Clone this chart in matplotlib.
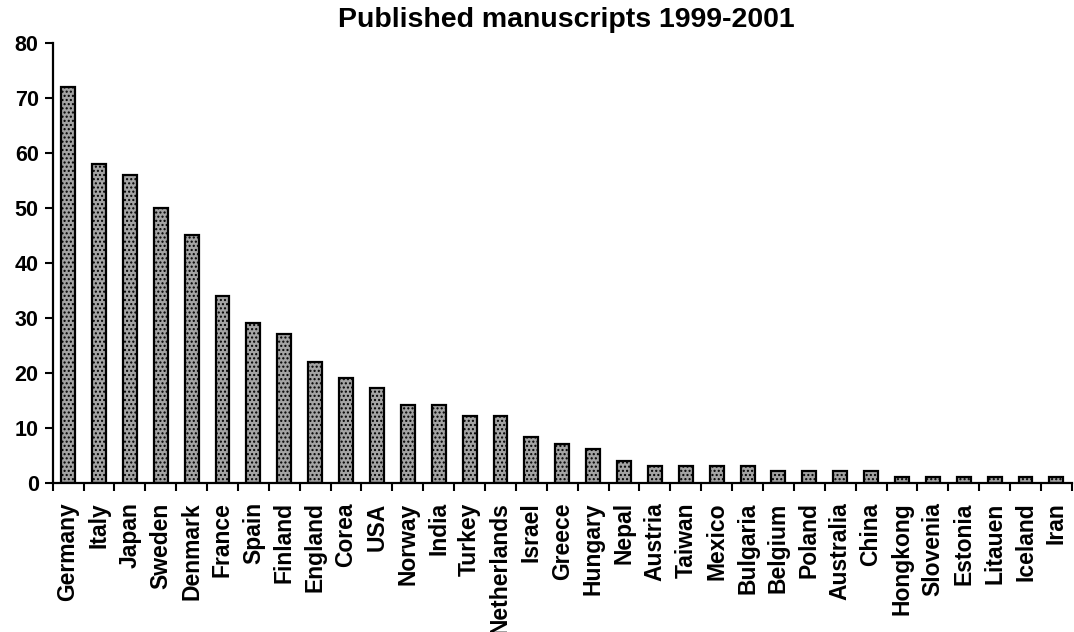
import matplotlib.pyplot as plt
import numpy as np

countries = ['Germany', 'Italy', 'Japan', 'Sweden', 'Denmark', 'France', 'Spain',
             'Finland', 'England', 'Corea', 'USA', 'Norway', 'India', 'Turkey',
             'Netherlands', 'Israel', 'Greece', 'Hungary', 'Nepal', 'Austria',
             'Taiwan', 'Mexico', 'Bulgaria', 'Belgium', 'Poland', 'Australia',
             'China', 'Hongkong', 'Slovenia', 'Estonia', 'Litauen', 'Iceland', 'Iran']
manuscripts = [72, 58, 56, 50, 45, 34, 29, 27, 22, 19, 17.3, 14.2, 14.2, 12.2, 12.2,
               8.3, 7, 6.1, 4, 3.1, 3.1, 3.1, 3.1, 2.2, 2.2, 2.2, 2.2,
               1, 1, 1, 1, 1, 1]
yticks = [0, 10, 20, 30, 40, 50, 60, 70, 80]

plt.rcParams['font.family'] = ['Liberation Sans', 'DejaVu Sans']
plt.rcParams['font.weight'] = 'bold'

fig = plt.figure(figsize=(10.74, 6.32), dpi=100)
ax = fig.add_axes([0.049, 0.236, 0.949, 0.696])

x = np.arange(len(countries))
ax.bar(x, manuscripts, width=0.45, color='#a4a4a4', edgecolor='black',
       linewidth=1.6, hatch='....')

ax.set_xlim(-0.5, len(countries) - 0.5)
ax.set_ylim(0, 80)
ax.set_yticks(yticks)
ax.set_yticklabels([str(v) for v in yticks], fontsize=15.5, fontweight='bold')
ax.set_xticks(x)
ax.set_xticklabels(countries, rotation=90, fontsize=16.5, fontweight='bold')
ax.tick_params(axis='x', length=0, pad=14)
ax.set_xticks(np.arange(-0.5, len(countries)), minor=True)
ax.tick_params(axis='x', which='minor', length=6, width=1.5, direction='out')
ax.tick_params(axis='y', length=6, width=1.5, direction='out', pad=4)

for side in ['top', 'right']:
    ax.spines[side].set_visible(False)
for side in ['left', 'bottom']:
    ax.spines[side].set_linewidth(1.6)

fig.text(0.527, 0.968, 'Published manuscripts 1999-2001', ha='center', va='center',
         fontsize=20.5, fontweight='bold')

fig.savefig('out.png', dpi=100)
